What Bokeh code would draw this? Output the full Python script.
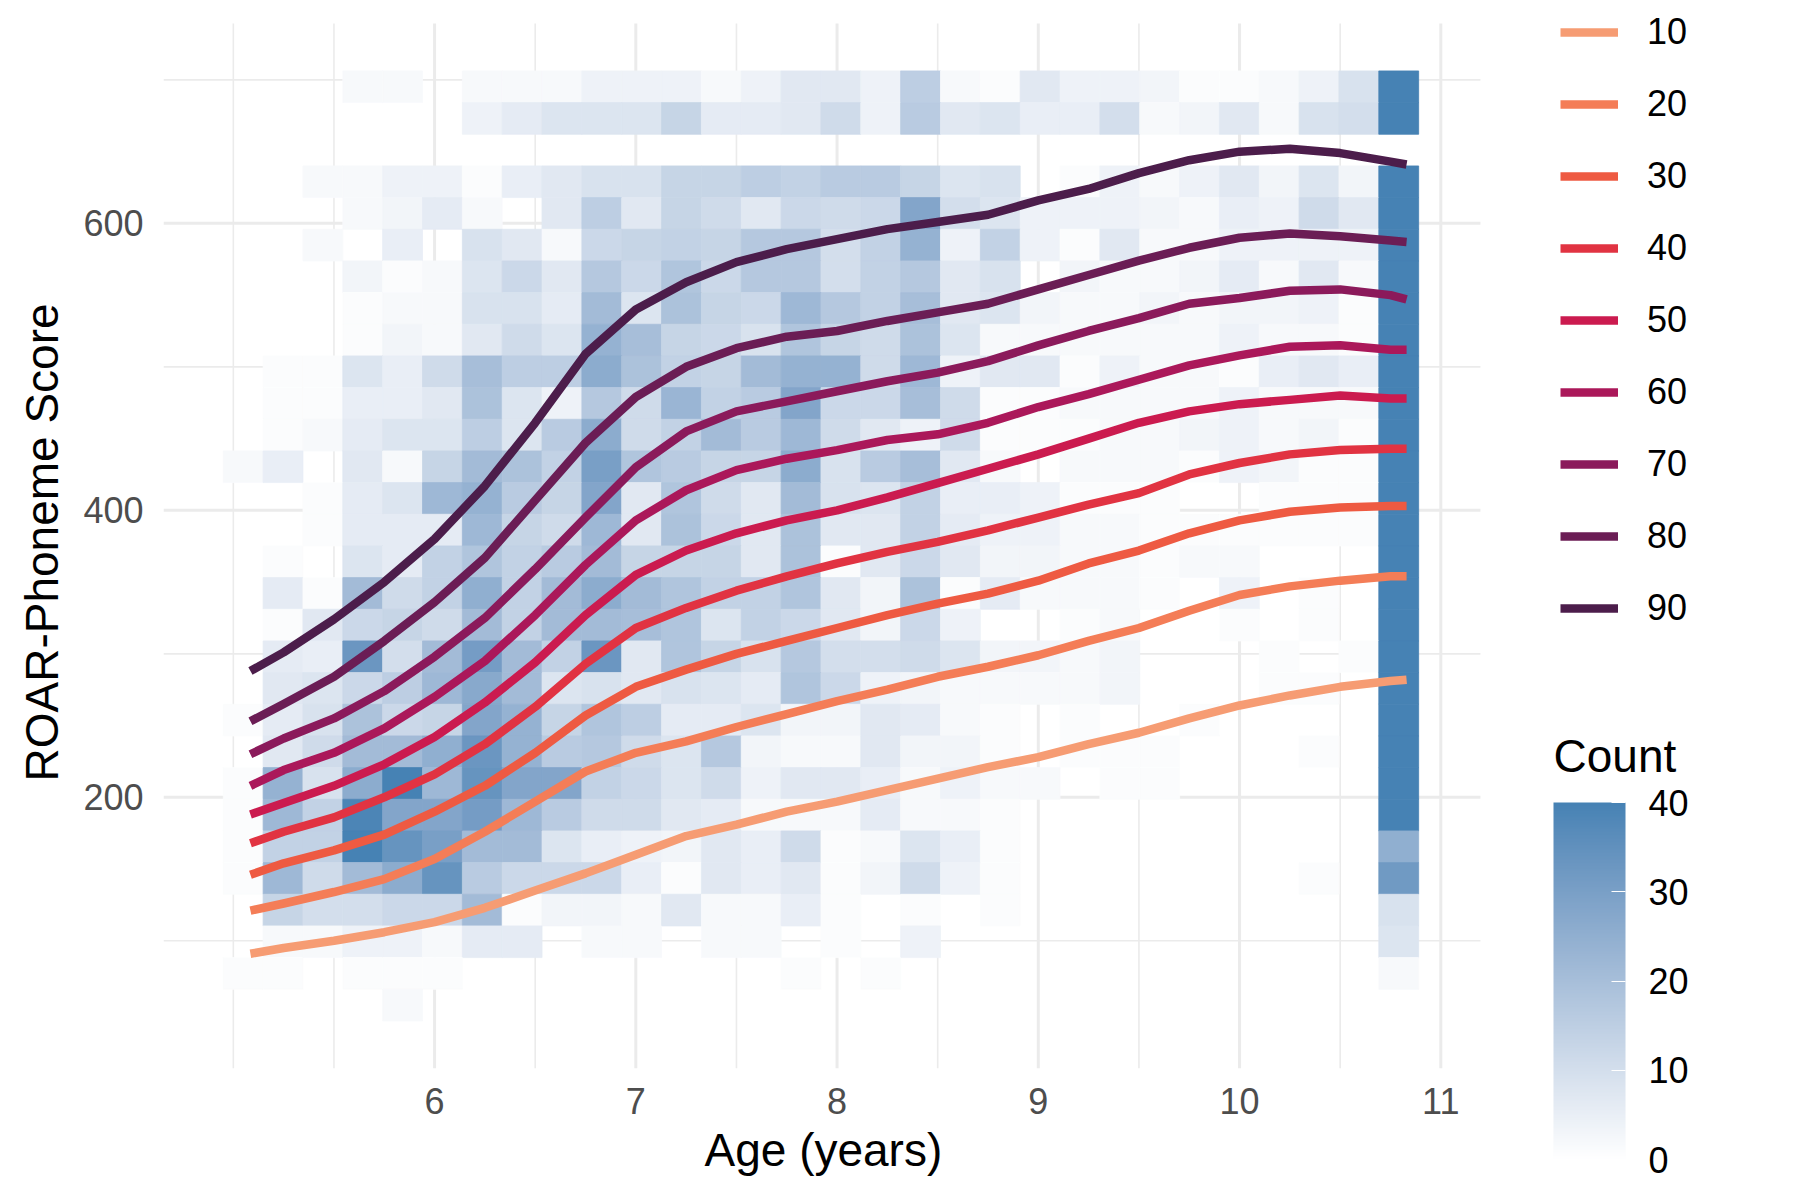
from bokeh.plotting import figure
from bokeh.models import ColumnDataSource, ColorBar, FixedTicker, Label, LinearColorMapper, Range1d, Title
from bokeh.embed import file_html
from bokeh.resources import INLINE

# 2d bins (30 x 30) of age and score
age_bin_start = 4.95
age_bin_width = 0.198
score_bin_start = 44.14
score_bin_height = 22.07

# tile counts, one list per score bin, top bin first; each list runs over the 30 age bins
counts_row_01 = [0, 0, 0, 2, 2, 0, 2, 2, 2, 4, 4, 4, 2, 4, 7, 7, 4, 15, 2, 1, 7, 4, 4, 3, 1, 1, 2, 4, 9, 45]
counts_row_02 = [0, 0, 0, 0, 0, 0, 4, 6, 8, 8, 8, 13, 6, 6, 7, 11, 4, 16, 7, 8, 5, 5, 10, 2, 3, 7, 2, 9, 10, 45]
counts_row_03 = [0] * 30
counts_row_04 = [0, 0, 2, 2, 4, 4, 1, 5, 7, 9, 9, 13, 13, 15, 14, 16, 16, 13, 8, 9, 0, 1, 4, 2, 4, 7, 3, 8, 3, 45]
counts_row_05 = [0, 0, 0, 2, 3, 6, 2, 0, 7, 15, 7, 13, 11, 7, 12, 11, 12, 28, 10, 8, 4, 4, 4, 3, 2, 5, 4, 11, 7, 45]
counts_row_06 = [0, 0, 2, 0, 5, 0, 9, 7, 2, 12, 13, 14, 13, 17, 17, 10, 14, 24, 4, 14, 4, 1, 7, 2, 2, 4, 4, 4, 4, 45]
counts_row_07 = [0, 0, 0, 3, 1, 2, 8, 12, 7, 17, 12, 18, 12, 17, 17, 10, 14, 17, 7, 9, 0, 3, 2, 2, 3, 6, 2, 7, 2, 45]
counts_row_08 = [0, 0, 0, 1, 2, 2, 9, 9, 6, 21, 8, 19, 13, 12, 22, 17, 14, 20, 7, 8, 3, 2, 2, 3, 2, 3, 3, 4, 1, 45]
counts_row_09 = [0, 0, 0, 1, 3, 2, 7, 11, 8, 24, 20, 13, 12, 9, 18, 13, 11, 19, 8, 2, 2, 2, 2, 2, 2, 4, 2, 2, 1, 45]
counts_row_10 = [0, 1, 1, 8, 5, 11, 20, 15, 15, 26, 19, 14, 13, 21, 24, 24, 11, 22, 4, 7, 7, 1, 4, 2, 2, 1, 5, 7, 5, 45]
counts_row_11 = [0, 1, 1, 5, 5, 7, 19, 8, 4, 17, 11, 23, 14, 16, 28, 12, 12, 20, 11, 1, 1, 2, 2, 2, 2, 4, 2, 2, 2, 45]
counts_row_12 = [0, 1, 2, 6, 8, 8, 15, 8, 16, 26, 11, 14, 21, 16, 22, 11, 7, 4, 11, 1, 1, 1, 2, 2, 3, 4, 2, 3, 1, 45]
counts_row_13 = [2, 5, 0, 7, 2, 13, 21, 19, 14, 30, 18, 16, 13, 13, 26, 9, 16, 20, 7, 2, 0, 2, 2, 2, 1, 4, 3, 1, 1, 45]
counts_row_14 = [0, 0, 1, 6, 8, 22, 24, 16, 13, 28, 7, 18, 11, 7, 21, 9, 8, 14, 5, 5, 4, 1, 1, 1, 0, 0, 1, 1, 1, 45]
counts_row_15 = [0, 0, 1, 6, 6, 6, 22, 13, 11, 22, 7, 19, 12, 7, 19, 7, 7, 14, 6, 4, 4, 2, 2, 1, 1, 1, 1, 1, 1, 45]
counts_row_16 = [0, 1, 0, 8, 6, 14, 18, 14, 16, 21, 13, 13, 13, 7, 19, 1, 7, 12, 7, 3, 3, 2, 2, 1, 2, 2, 0, 0, 0, 45]
counts_row_17 = [0, 6, 1, 21, 11, 14, 25, 14, 21, 26, 21, 18, 14, 14, 18, 7, 3, 19, 1, 6, 2, 2, 2, 1, 0, 4, 0, 1, 0, 45]
counts_row_18 = [0, 1, 7, 12, 13, 11, 21, 14, 21, 21, 20, 18, 8, 14, 12, 7, 3, 12, 4, 0, 0, 1, 2, 0, 0, 1, 0, 1, 0, 45]
counts_row_19 = [0, 6, 5, 33, 10, 21, 31, 21, 14, 33, 7, 18, 13, 9, 17, 10, 10, 11, 8, 3, 3, 2, 3, 0, 0, 0, 1, 0, 1, 45]
counts_row_20 = [0, 7, 8, 12, 15, 22, 27, 21, 8, 9, 7, 9, 8, 6, 18, 12, 4, 3, 2, 2, 2, 2, 3, 0, 0, 0, 1, 1, 0, 45]
counts_row_21 = [1, 6, 9, 19, 12, 13, 28, 24, 13, 18, 15, 6, 6, 8, 3, 3, 7, 6, 2, 1, 0, 1, 0, 0, 1, 0, 0, 0, 0, 45]
counts_row_22 = [0, 7, 11, 21, 21, 25, 33, 24, 16, 17, 11, 8, 17, 3, 2, 2, 7, 3, 3, 1, 0, 1, 1, 1, 0, 0, 0, 1, 0, 45]
counts_row_23 = [1, 24, 9, 26, 45, 22, 34, 28, 28, 14, 12, 8, 11, 4, 7, 7, 5, 2, 4, 2, 2, 0, 1, 1, 0, 0, 0, 0, 0, 45]
counts_row_24 = [1, 22, 14, 39, 28, 28, 31, 22, 16, 11, 11, 7, 6, 2, 2, 2, 6, 2, 2, 1, 0, 0, 0, 0, 0, 0, 0, 0, 0, 45]
counts_row_25 = [1, 14, 14, 45, 34, 30, 21, 21, 8, 5, 4, 3, 7, 5, 11, 1, 2, 8, 5, 1, 0, 0, 0, 0, 0, 0, 0, 0, 0, 25]
counts_row_26 = [1, 22, 11, 21, 26, 34, 16, 12, 12, 12, 5, 1, 7, 5, 7, 1, 3, 11, 4, 1, 0, 0, 0, 0, 0, 0, 0, 1, 0, 32]
counts_row_27 = [0, 13, 10, 10, 12, 12, 21, 1, 3, 3, 2, 7, 2, 2, 5, 1, 0, 1, 0, 1, 0, 0, 0, 0, 0, 0, 0, 0, 0, 9]
counts_row_28 = [0, 2, 2, 4, 4, 2, 6, 6, 0, 2, 2, 0, 2, 2, 0, 1, 0, 4, 0, 0, 0, 0, 0, 0, 0, 0, 0, 0, 0, 8]
counts_row_29 = [1, 1, 0, 1, 1, 1, 0, 0, 0, 0, 0, 0, 0, 0, 1, 0, 1, 0, 0, 0, 0, 0, 0, 0, 0, 0, 0, 0, 0, 2]
counts_row_30 = [0, 0, 0, 0, 2, 0, 0, 0, 0, 0, 0, 0, 0, 0, 0, 0, 0, 0, 0, 0, 0, 0, 0, 0, 0, 0, 0, 0, 0, 0]

count_rows = [
    counts_row_01, counts_row_02, counts_row_03, counts_row_04, counts_row_05,
    counts_row_06, counts_row_07, counts_row_08, counts_row_09, counts_row_10,
    counts_row_11, counts_row_12, counts_row_13, counts_row_14, counts_row_15,
    counts_row_16, counts_row_17, counts_row_18, counts_row_19, counts_row_20,
    counts_row_21, counts_row_22, counts_row_23, counts_row_24, counts_row_25,
    counts_row_26, counts_row_27, counts_row_28, counts_row_29, counts_row_30,
]

# age-conditional percentile curves
curve_ages = [5.085, 5.25, 5.5, 5.75, 6.0, 6.25, 6.5, 6.75, 7.0, 7.25, 7.5, 7.75, 8.0,
              8.25, 8.5, 8.75, 9.0, 9.25, 9.5, 9.75, 10.0, 10.25, 10.5, 10.75, 10.83]
p10 = [91, 95, 100, 106, 113, 123, 135, 147, 160, 173, 181, 190, 197,
       205, 213, 221, 228, 237, 245, 255, 264, 271, 277, 281, 282]
p20 = [121, 126, 134, 143, 157, 176, 197, 218, 231, 239, 249, 258, 267,
       275, 284, 291, 299, 309, 318, 330, 341, 347, 351, 354, 354]
p30 = [146, 154, 163, 174, 190, 208, 231, 257, 277, 289, 300, 309, 318,
       327, 335, 342, 351, 363, 372, 384, 393, 399, 402, 403, 403]
p40 = [168, 176, 186, 200, 216, 237, 263, 293, 318, 332, 344, 354, 363,
       371, 378, 386, 395, 404, 412, 425, 433, 439, 442, 443, 443]
p50 = [188, 196, 208, 223, 242, 266, 294, 327, 355, 372, 384, 393, 400,
       409, 419, 429, 439, 450, 461, 469, 474, 477, 480, 478, 478]
p60 = [208, 219, 231, 248, 270, 295, 327, 362, 393, 414, 428, 436, 442,
       449, 453, 461, 472, 481, 491, 501, 508, 514, 515, 512, 512]
p70 = [230, 241, 255, 274, 298, 325, 359, 395, 430, 455, 469, 476, 483,
       490, 496, 504, 515, 525, 534, 544, 548, 553, 554, 550, 547]
p80 = [253, 265, 284, 309, 336, 367, 407, 447, 479, 500, 513, 521, 525,
       532, 538, 544, 554, 564, 574, 583, 590, 593, 591, 588, 587]
p90 = [288, 301, 324, 350, 380, 417, 461, 509, 540, 559, 573, 582, 589,
       596, 601, 606, 616, 624, 635, 644, 650, 652, 649, 643, 641]

percentile_labels = ["10", "20", "30", "40", "50", "60", "70", "80", "90"]
percentile_series = [p10, p20, p30, p40, p50, p60, p70, p80, p90]
percentile_colors = ["#F69C73", "#F47D57", "#EE5A42", "#E13342", "#CB1B4F",
                     "#AB185A", "#8B1A5B", "#6B1D55", "#4C1D4B"]

# panel limits (ggplot's 5% expansion) and grid breaks
age_limits = (4.653, 11.197)
score_limits = (11.0, 739.3)
age_major = [6, 7, 8, 9, 10, 11]
age_minor = [5, 5.5, 6.5, 7.5, 8.5, 9.5, 10.5]
score_major = [200, 400, 600]
score_minor = [100, 300, 500, 700]

FONT = "Liberation Sans"


def to_lab(rgb):
    def lin(c):
        c = c / 255
        return c / 12.92 if c <= 0.04045 else ((c + 0.055) / 1.055) ** 2.4

    r, g, b = (lin(c) for c in rgb)
    x = (0.4124 * r + 0.3576 * g + 0.1805 * b) / 0.95047
    y = 0.2126 * r + 0.7152 * g + 0.0722 * b
    z = (0.0193 * r + 0.1192 * g + 0.9505 * b) / 1.08883

    def f(t):
        return t ** (1 / 3) if t > 0.008856 else 7.787 * t + 16 / 116

    fx, fy, fz = f(x), f(y), f(z)
    return 116 * fy - 16, 500 * (fx - fy), 200 * (fy - fz)


def from_lab(lab):
    L, a, b = lab
    fy = (L + 16) / 116
    fx = fy + a / 500
    fz = fy - b / 200

    def finv(t):
        return t ** 3 if t ** 3 > 0.008856 else (t - 16 / 116) / 7.787

    x, y, z = 0.95047 * finv(fx), finv(fy), 1.08883 * finv(fz)
    rgb = (3.2406 * x - 1.5372 * y - 0.4986 * z,
           -0.9689 * x + 1.8758 * y + 0.0415 * z,
           0.0557 * x - 0.2040 * y + 1.0570 * z)

    def enc(c):
        c = c * 12.92 if c <= 0.0031308 else 1.055 * max(c, 0) ** (1 / 2.4) - 0.055
        return max(0, min(255, round(c * 255)))

    return "#%02x%02x%02x" % tuple(enc(c) for c in rgb)


# white -> steelblue, interpolated in Lab like ggplot's gradient
lo, hi = to_lab((255, 255, 255)), to_lab((70, 130, 180))
palette = [from_lab(tuple(l + (h - l) * i / 255 for l, h in zip(lo, hi))) for i in range(256)]
mapper = LinearColorMapper(palette=palette, low=0, high=40)

tiles = dict(left=[], right=[], bottom=[], top=[], count=[])
n_rows = len(count_rows)
for r, row in enumerate(count_rows):
    j = n_rows - 1 - r
    for i, n in enumerate(row):
        if n <= 0:
            continue
        tiles["left"].append(age_bin_start + i * age_bin_width)
        tiles["right"].append(age_bin_start + (i + 1) * age_bin_width)
        tiles["bottom"].append(score_bin_start + j * score_bin_height)
        tiles["top"].append(score_bin_start + (j + 1) * score_bin_height)
        tiles["count"].append(n)

# the frame runs to the right and top edges so the legends are not clipped;
# the ggplot panel itself keeps its limits through the hand-drawn grid
W, H = 1784, 1188
LEFT, PANEL_RIGHT, PANEL_TOP, BOTTOM = 158, 1479, 23, 1068
x_per_px = (age_limits[1] - age_limits[0]) / (PANEL_RIGHT - LEFT)
y_per_px = (score_limits[1] - score_limits[0]) / (BOTTOM - PANEL_TOP)

p = figure(
    width=W,
    height=H,
    output_backend="svg",
    toolbar_location=None,
    x_range=Range1d(age_limits[0], age_limits[1] + (W - PANEL_RIGHT) * x_per_px),
    y_range=Range1d(score_limits[0], score_limits[1] + PANEL_TOP * y_per_px),
    min_border_left=LEFT,
    min_border_right=0,
    min_border_top=0,
    min_border_bottom=H - BOTTOM,
)
p.outline_line_color = None
p.background_fill_color = "white"
p.border_fill_color = "white"
p.grid.visible = False

grid_color = "#EBEBEB"
p.segment(x0=age_minor, x1=age_minor, y0=[score_limits[0]] * len(age_minor),
          y1=[score_limits[1]] * len(age_minor), line_color=grid_color, line_width=1.6, level="underlay")
p.segment(x0=age_major, x1=age_major, y0=[score_limits[0]] * len(age_major),
          y1=[score_limits[1]] * len(age_major), line_color=grid_color, line_width=3, level="underlay")
p.segment(x0=[age_limits[0]] * len(score_minor), x1=[age_limits[1]] * len(score_minor),
          y0=score_minor, y1=score_minor, line_color=grid_color, line_width=1.6, level="underlay")
p.segment(x0=[age_limits[0]] * len(score_major), x1=[age_limits[1]] * len(score_major),
          y0=score_major, y1=score_major, line_color=grid_color, line_width=3, level="underlay")

fill = {"field": "count", "transform": mapper}
p.quad(left="left", right="right", bottom="bottom", top="top", source=ColumnDataSource(tiles),
       fill_color=fill, line_color=fill, line_width=0.8)

for label, vals, color in zip(percentile_labels, percentile_series, percentile_colors):
    p.line(curve_ages, vals, line_width=8.5, color=color, line_join="round",
           legend_label=label)

p.xaxis.ticker = FixedTicker(ticks=age_major)
p.yaxis.ticker = FixedTicker(ticks=score_major)

for axis in (p.xaxis, p.yaxis):
    axis.axis_line_color = None
    axis.major_tick_line_color = None
    axis.minor_tick_line_color = None
    axis.major_tick_out = 0
    axis.major_label_text_font = FONT
    axis.major_label_text_font_size = "36px"
    axis.major_label_text_color = "#4D4D4D"

p.xaxis.major_label_standoff = 19
p.yaxis.major_label_standoff = 20

# axis titles as titles so they centre on the ggplot panel rather than the whole frame
x_title = Title(text="Age (years)", align="left", offset=541, standoff=10,
                text_font=FONT, text_font_size="46px", text_font_style="normal",
                text_color="black")
y_title = Title(text="ROAR-Phoneme Score", align="left", offset=287, standoff=26,
                text_font=FONT, text_font_size="46px", text_font_style="normal",
                text_color="black")
p.add_layout(x_title, "below")
p.add_layout(y_title, "left")

legend = p.legend[0]
legend.location = (1397, 439)
legend.glyph_width = 58
legend.glyph_height = 42
legend.label_height = 42
legend.spacing = 30
legend.padding = 0
legend.margin = 0
legend.label_standoff = 29
legend.label_text_font = FONT
legend.label_text_font_size = "36px"
legend.label_text_color = "black"
legend.border_line_color = None
legend.background_fill_alpha = 0

color_bar = ColorBar(
    color_mapper=mapper,
    location=(1390, -91),
    width=72,
    height=357,
    padding=0,
    ticker=FixedTicker(ticks=[0, 10, 20, 30, 40]),
    major_label_text_font=FONT,
    major_label_text_font_size="36px",
    major_label_text_color="black",
    label_standoff=23,
    major_tick_line_color="white",
    major_tick_in=14,
    major_tick_out=0,
    minor_tick_line_color=None,
    bar_line_color=None,
    border_line_color=None,
    background_fill_alpha=0,
)
p.add_layout(color_bar)

p.add_layout(Label(x=1390, y=313, x_units="screen", y_units="screen", text="Count",
                   text_font=FONT, text_font_size="46px", text_baseline="alphabetic",
                   text_color="black"))

open("out.html", "w").write(file_html(p, INLINE))
